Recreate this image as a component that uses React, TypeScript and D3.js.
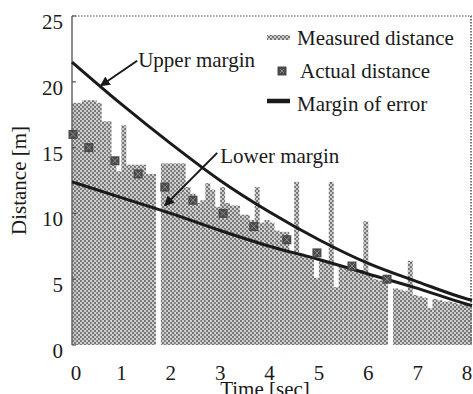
import React from 'react';
import * as d3 from 'd3';

// measured distance, one bar per 0.1 s starting at t = 0
const binWidth = 0.1;
const measured = [
  18.4, 18.4, 18.6, 18.6, 18.6, 18.4, 17.0, 17.0, 14.0, 13.2,
  16.7, 13.7, 13.7, 13.7, 13.7, 13.0, 13.0, 0, 13.8, 13.8,
  13.8, 13.8, 13.8, 12.0, 11.5, 10.8, 11.0, 12.3, 11.8, 10.5,
  12.0, 10.8, 10.6, 10.6, 9.9, 9.9, 9.5, 12.0, 9.3, 9.5,
  9.3, 8.7, 8.6, 8.6, 7.0, 12.4, 7.0, 6.8, 6.6, 5.1,
  6.5, 6.3, 12.4, 4.4, 6.0, 5.8, 5.9, 5.8, 5.7, 9.4,
  5.3, 5.0, 4.9, 4.8, 0, 4.3, 4.2, 4.1, 6.4, 3.8,
  3.7, 3.6, 2.8, 3.5, 3.4, 3.3, 3.3, 3.2, 3.1, 3.1,
  3.0,
];

// actual distance markers
const actualT = [0.02, 0.34, 0.87, 1.34, 1.88, 2.45, 3.06, 3.68, 4.35, 4.96, 5.67, 6.38];
const actualV = [16, 15, 14, 13, 12, 11, 10, 9, 8, 7, 6, 5];

// margin of error curves
const marginT = [0, 1, 2, 3, 4, 5, 6, 7, 8, 8.1];
const upperV = [21.5, 18.3, 15.3, 12.5, 10.1, 8.0, 6.2, 4.8, 3.5, 3.4];
const lowerV = [12.4, 11.2, 10.0, 8.7, 7.5, 6.5, 5.4, 4.3, 3.1, 3.0];

const xTicks = [0, 1, 2, 3, 4, 5, 6, 7, 8];
const yTicks = [0, 5, 10, 15, 20, 25];

// annotation arrows: [label, textT, textV, fromT, fromV, toT, toV]
const notes: [string, number, number, number, number, number, number][] = [
  ['Upper margin', 1.34, 21.6, 1.32, 21.6, 0.58, 19.7],
  ['Lower margin', 3.0, 14.3, 2.94, 14.6, 1.88, 10.6],
];

const legendItems = ['Measured distance', 'Actual distance', 'Margin of error'];

const W = 473;
const H = 394;
const FONT = "'Liberation Serif', 'Times New Roman', Times, serif";

export default function App() {
  const x = d3.scaleLinear().domain([0, 8.1]).range([72, 472]);
  const y = d3.scaleLinear().domain([0, 25]).range([345, 16]);

  const line = d3.line<number>()
    .x((_, i) => x(marginT[i]))
    .curve(d3.curveMonotoneX);
  const upperPath = line.y(d => y(d))(upperV) || '';
  const lowerPath = line.y(d => y(d))(lowerV) || '';

  const [x0, x1] = x.range();
  const [yb, yt] = y.range();

  return (
    <svg width={W} height={H} style={{ position: 'absolute', left: 0, top: 0, background: '#fff', fontFamily: FONT }}>
      <defs>
        <pattern id="halftone" width={4} height={4} patternUnits="userSpaceOnUse">
          <rect width={4} height={4} fill="#cdcdcd" />
          <rect x={0} y={0} width={2} height={2} fill="#777" />
          <rect x={2} y={2} width={2} height={2} fill="#777" />
        </pattern>
        <marker id="head" viewBox="0 0 10 10" refX={9} refY={5} markerWidth={5} markerHeight={5}
          orient="auto" markerUnits="strokeWidth">
          <path d="M0,0 L10,5 L0,10 z" fill="#1a1a1a" />
        </marker>
      </defs>

      {/* measured distance bars */}
      <g>
        {measured.map((v, i) => (
          <rect key={i}
            x={x(i * binWidth)}
            y={y(v)}
            width={x((i + 1) * binWidth) - x(i * binWidth)}
            height={y(0) - y(v)}
            fill="url(#halftone)" />
        ))}
      </g>

      {/* frame */}
      <line x1={x0} x2={x1} y1={yt} y2={yt} stroke="#888" strokeWidth={1.5} strokeDasharray="1.5,1.5" />
      <line x1={x1 - 1} x2={x1 - 1} y1={yt} y2={yb} stroke="#777" strokeWidth={2} strokeDasharray="1.5,1.5" />
      <line x1={x0} x2={x0} y1={yt} y2={yb} stroke="#666" strokeWidth={1.5} />
      {yTicks.map(t => (
        <line key={t} x1={x0} x2={x0 + 4} y1={y(t)} y2={y(t)} stroke="#555" strokeWidth={1.2} />
      ))}

      {/* margin curves */}
      <path d={upperPath} fill="none" stroke="#1a1a1a" strokeWidth={3} />
      <path d={lowerPath} fill="none" stroke="#1a1a1a" strokeWidth={3} />

      {/* actual distance markers */}
      {actualT.map((t, i) => {
        const cx = x(t);
        const cy = y(actualV[i]);
        return (
          <g key={i}>
            <rect x={cx - 4.5} y={cy - 4.5} width={9} height={9} fill="#4a4a4a" />
            <path d={`M${cx - 3},${cy - 3}L${cx + 3},${cy + 3}M${cx + 3},${cy - 3}L${cx - 3},${cy + 3}`}
              stroke="#8a8a8a" strokeWidth={1} />
          </g>
        );
      })}

      {/* annotations */}
      {notes.map(([label, tt, tv, ft, fv, at, av]) => (
        <g key={label}>
          <line x1={x(ft)} y1={y(fv)} x2={x(at)} y2={y(av)} stroke="#1a1a1a" strokeWidth={2}
            markerEnd="url(#head)" />
          <text x={x(tt)} y={y(tv) + 6} fontSize={21} fill="#1a1a1a">{label}</text>
        </g>
      ))}

      {/* axis labels */}
      {yTicks.map(t => (
        <text key={t} x={63} y={y(t) + 13} fontSize={21} textAnchor="end" fill="#1a1a1a">{t}</text>
      ))}
      {xTicks.map(t => (
        <text key={t} x={x(t) + (t === 0 ? 4 : 0)} y={380} fontSize={21} textAnchor="middle" fill="#1a1a1a">{t}</text>
      ))}
      <text transform={`translate(26,${(yt + yb) / 2}) rotate(-90)`} fontSize={21} textAnchor="middle"
        fill="#1a1a1a">Distance [m]</text>
      <text x={265} y={396} fontSize={21} textAnchor="middle" fill="#1a1a1a">Time [sec]</text>

      {/* legend */}
      <g>
        <rect x={267} y={35} width={23} height={5} fill="url(#halftone)" />
        <rect x={277.5} y={66.5} width={9} height={9} fill="#4a4a4a" />
        <path d="M280,69L284,73M284,69L280,73" stroke="#8a8a8a" strokeWidth={1} />
        <line x1={267} x2={290} y1={101} y2={101} stroke="#1a1a1a" strokeWidth={4.5} />
        {legendItems.map((name, i) => (
          <text key={name} x={i === 1 ? 300 : 297} y={45 + i * 33} fontSize={21} fill="#1a1a1a">{name}</text>
        ))}
      </g>
    </svg>
  );
}
